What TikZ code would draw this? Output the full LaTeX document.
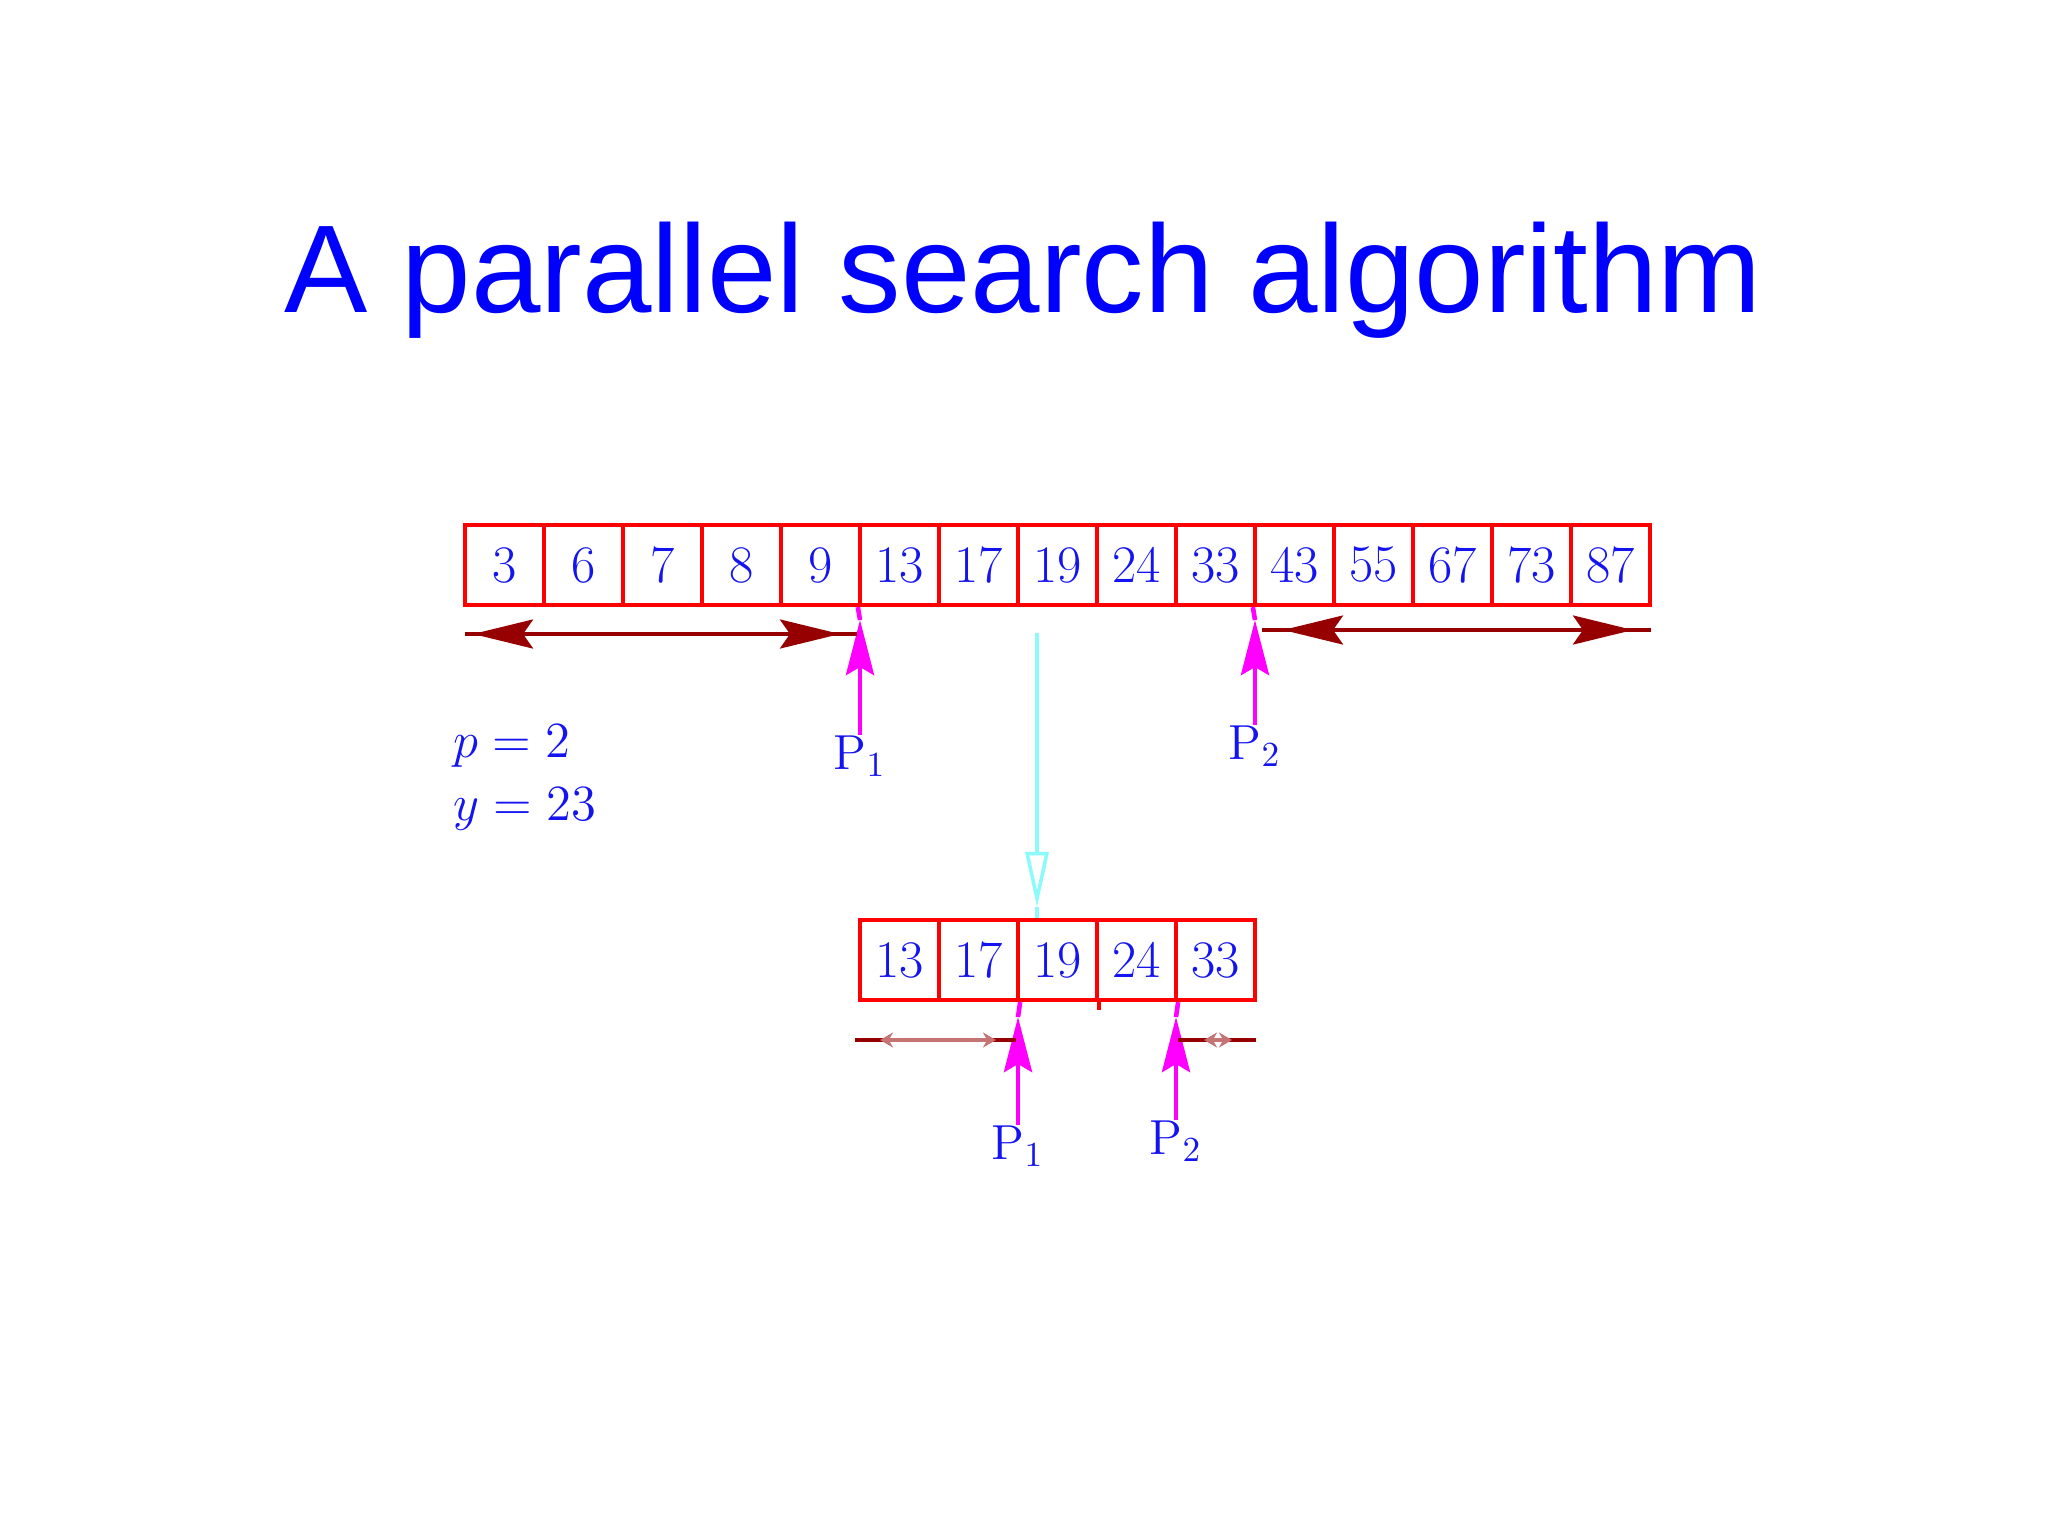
\documentclass[tikz,border=0pt]{standalone}
\usepackage{amsmath}
\usepackage{fontspec}
\newfontfamily\titulofont{Liberation Sans}
\usepackage{tikz}
\usetikzlibrary{arrows.meta}

\definecolor{rojocaja}{RGB}{255,0,0}
\definecolor{rango}{RGB}{150,0,0}
\definecolor{proc}{RGB}{255,0,255}
\definecolor{flujo}{RGB}{140,250,250}
\definecolor{texto}{RGB}{20,20,240}

\tikzset{
  celda/.style={draw=rojocaja, line width=1.2pt, minimum width=0.79cm, minimum height=0.8cm,
    inner sep=0pt, text=texto, font=\fontsize{15}{17}\selectfont},
  etiq/.style={text=texto, inner sep=0pt, font=\fontsize{14}{16}\selectfont},
  rangolinea/.style={draw=rango, line width=1pt},
  rangoflecha/.style={draw=rango, line width=1pt,
    {Stealth[length=0.6cm, width=0.29cm, inset=0.1cm]}-{Stealth[length=0.6cm, width=0.29cm, inset=0.1cm]}},
  rangochico/.style={draw=rango!55, line width=1pt,
    {Stealth[length=0.13cm, width=0.15cm]}-{Stealth[length=0.13cm, width=0.15cm]}},
  proclinea/.style={draw=proc, line width=1.3pt},
  procflecha/.style={draw=proc, fill=proc, line width=1.3pt,
    -{Stealth[length=0.55cm, width=0.28cm, inset=0.08cm]}},
  flujolinea/.style={draw=flujo, line width=1pt},
  flujoflecha/.style={draw=flujo, line width=1pt, -{Triangle[open, length=0.55cm, width=0.23cm]}}
}

\begin{document}
\begin{tikzpicture}[x=0.01cm, y=-0.01cm]
  \useasboundingbox (0,0) rectangle (2048,1536);

  % Titulo
  \node[font=\titulofont\fontsize{35.5}{40}\selectfont, text=blue, anchor=base] (titulo) at (1023,312)
    {A parallel search algorithm};

  % Arreglo completo
  \foreach \v [count=\i from 0] in {3,6,7,8,9,13,17,19,24,33,43,55,67,73,87}
    \node[celda] (a\i) at ({465+79*(\i+0.5)},565) {\v};

  % Subarreglo
  \foreach \v [count=\i from 0] in {13,17,19,24,33}
    \node[celda] (b\i) at ({860+79*(\i+0.5)},960) {\v};
  \draw[draw=rojocaja, line width=1.2pt] (b2.south east) -- ++(0,8);

  % Datos
  \node[etiq, anchor=base west] (datop) at (453,757) {$p = 2$};
  \node[etiq, anchor=base west] (datoy) at (453,820) {$y = 23$};

  % Procesadores arriba
  \node[etiq, anchor=north] (p1a) at (860,735) {P$_1$};
  \node[etiq, anchor=north] (p2a) at (1255,725) {P$_2$};
  \coordinate (t1a) at (860,620);
  \coordinate (t2a) at (1255,620);
  \draw[procflecha] (p1a.north) -- (t1a);
  \draw[proclinea] (t1a) -- (a5.south west);
  \draw[procflecha] (p2a.north) -- (t2a);
  \draw[proclinea] (t2a) -- (a10.south west);

  % Rangos arriba
  \coordinate (r1i) at (465,634);
  \coordinate (r1d) at (857,634);
  \coordinate (r2i) at (1262,630);
  \coordinate (r2d) at (1651,630);
  \draw[rangolinea] (r1i) -- (r1d);
  \draw[rangoflecha] (473,634) -- (840,634);
  \draw[rangolinea] (r2i) -- (r2d);
  \draw[rangoflecha] (1283,630) -- (1633,630);

  % Bajada al subarreglo
  \coordinate (c0) at (1037,633);
  \coordinate (c1) at (1037,907);
  \draw[flujoflecha] (c0) -- (c1);
  \draw[flujolinea] (c1) -- (c1 |- b2.north);

  % Procesadores abajo
  \node[etiq, anchor=north] (p1b) at (1018,1125) {P$_1$};
  \node[etiq, anchor=north] (p2b) at (1176,1120) {P$_2$};
  \coordinate (t1b) at (1018,1017);
  \coordinate (t2b) at (1176,1017);
  \draw[procflecha] (p1b.north) -- (t1b);
  \draw[proclinea] (t1b) -- (b1.south east);
  \draw[procflecha] (p2b.north) -- (t2b);
  \draw[proclinea] (t2b) -- (b3.south east);

  % Rangos abajo
  \coordinate (s1i) at (855,1040);
  \coordinate (s1d) at (1016,1040);
  \coordinate (s2i) at (1178,1040);
  \coordinate (s2d) at (1256,1040);
  \draw[rangolinea] (s1i) -- (s1d);
  \draw[rangochico] (880,1040) -- (996,1040);
  \draw[rangolinea] (s2i) -- (s2d);
  \draw[rangochico] (1204,1040) -- (1232,1040);
\end{tikzpicture}
\end{document}
